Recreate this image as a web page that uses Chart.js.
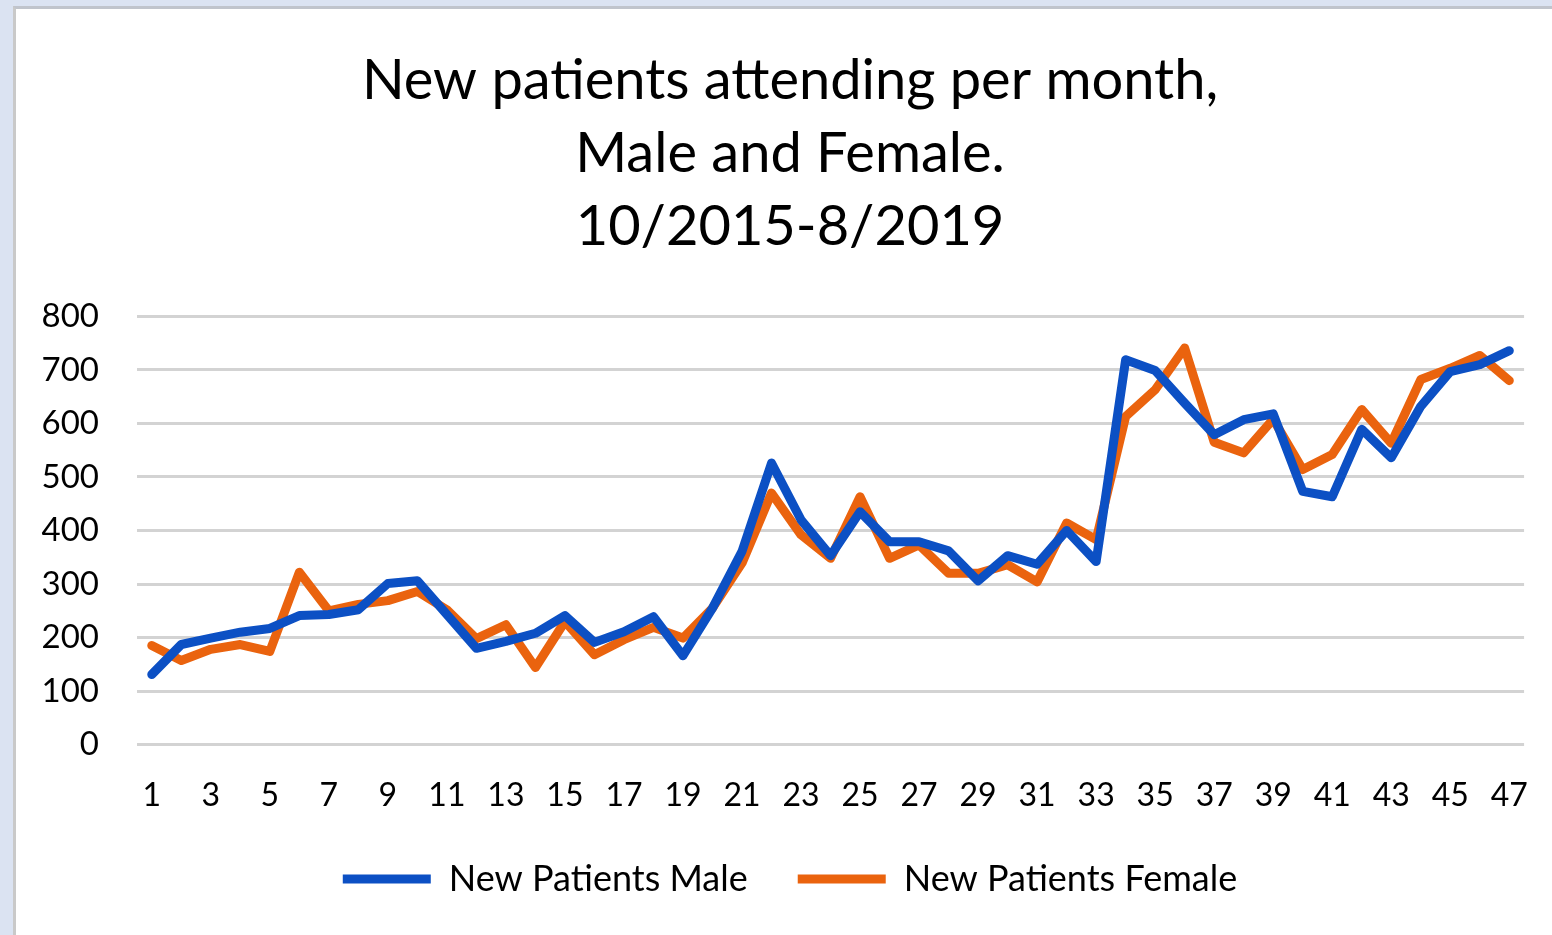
<!DOCTYPE html>
<html>
<head>
<meta charset="utf-8">
<script src="https://cdn.jsdelivr.net/npm/chart.js@4.4.1/dist/chart.umd.min.js"></script>
<style>
    html, body { margin: 0; padding: 0; }
    body { background: #dbe3f2; width: 1552px; height: 935px; overflow: hidden; position: relative; }
    #panel {
        position: absolute; left: 13px; top: 6px; right: 0; bottom: 0;
        background: #ffffff; border-left: 3px solid #c9c9c9; border-top: 3px solid #c0c4cc;
    }
    #chart { display: block; }
</style>
</head>
<body>
<div id="panel"><canvas id="chart"></canvas></div>
<script>
// months since 10/2015, numbered 1..47
const months = Array.from({ length: 47 }, (_, i) => String(i + 1));

const maleValues = [131, 187, 199, 210, 217, 241, 243, 252, 301, 306,
    243, 180, 193, 208, 241, 191, 211, 239, 166, 255,
    361, 526, 420, 353, 435, 379, 379, 362, 306, 353,
    337, 400, 342, 719, 699, 638, 579, 607, 618, 473,
    463, 589, 536, 632, 697, 710, 736];

const femaleValues = [185, 157, 178, 187, 174, 322, 250, 262, 269, 286,
    252, 198, 224, 144, 230, 168, 196, 219, 199, 255,
    339, 470, 392, 348, 463, 348, 373, 320, 320, 336,
    304, 414, 383, 613, 663, 741, 565, 545, 608, 514,
    542, 626, 563, 682, 703, 727, 680];

const yTicks = [0, 100, 200, 300, 400, 500, 600, 700, 800];

const titleLines = ['New patients attending per month,', 'Male and Female.', '10/2015-8/2019'];

const fontFamily = 'Lato, "Open Sans", sans-serif';

let ctx = document.getElementById('chart').getContext('2d');

let chart = new Chart(ctx, {
    type: 'line',
    data: {
        labels: months,
        datasets: [{
            label: 'New Patients Male',
            data: maleValues,
            borderColor: '#0c50c4',
            backgroundColor: '#0c50c4',
            borderWidth: 9,
            borderCapStyle: 'round',
            borderJoinStyle: 'round',
            pointRadius: 0,
            pointStyle: 'line',
            tension: 0
        }, {
            label: 'New Patients Female',
            data: femaleValues,
            borderColor: '#ea630e',
            backgroundColor: '#ea630e',
            borderWidth: 9,
            borderCapStyle: 'round',
            borderJoinStyle: 'round',
            pointRadius: 0,
            pointStyle: 'line',
            tension: 0
        }]
    },
    options: {
        responsive: true,
        maintainAspectRatio: false,
        animation: false,
        layout: {
            padding: { left: 24, right: 12, top: 0, bottom: 28 }
        },
        plugins: {
            title: {
                display: true,
                text: titleLines,
                color: '#000000',
                font: { family: fontFamily, size: 56, weight: 'normal', lineHeight: 1.3 },
                padding: { top: 36, bottom: 53 }
            },
            legend: {
                position: 'bottom',
                labels: {
                    color: '#000000',
                    font: { family: fontFamily, size: 36 },
                    usePointStyle: true,
                    pointStyleWidth: 88,
                    boxHeight: 10,
                    padding: 50
                }
            },
            tooltip: { enabled: false }
        },
        scales: {
            x: {
                offset: true,
                grid: { display: false },
                border: { display: false },
                afterFit: function (axis) {
                    // give back some of the space the wide legend padding takes
                    axis.height -= 28;
                },
                ticks: {
                    color: '#000000',
                    font: { family: fontFamily, size: 32 },
                    autoSkip: false,
                    maxRotation: 0,
                    padding: 24,
                    callback: function (value, index) {
                        return index % 2 === 0 ? this.getLabelForValue(value) : '';
                    }
                }
            },
            y: {
                min: 0,
                max: 800,
                afterBuildTicks: function (axis) {
                    axis.ticks = yTicks.map(v => ({ value: v }));
                },
                afterFit: function (axis) {
                    axis.width = 97;
                },
                grid: { color: '#d3d3d3', lineWidth: 3, drawTicks: false },
                border: { display: false },
                ticks: {
                    color: '#000000',
                    font: { family: fontFamily, size: 33 },
                    padding: 38
                }
            }
        }
    }
});
</script>
</body>
</html>
